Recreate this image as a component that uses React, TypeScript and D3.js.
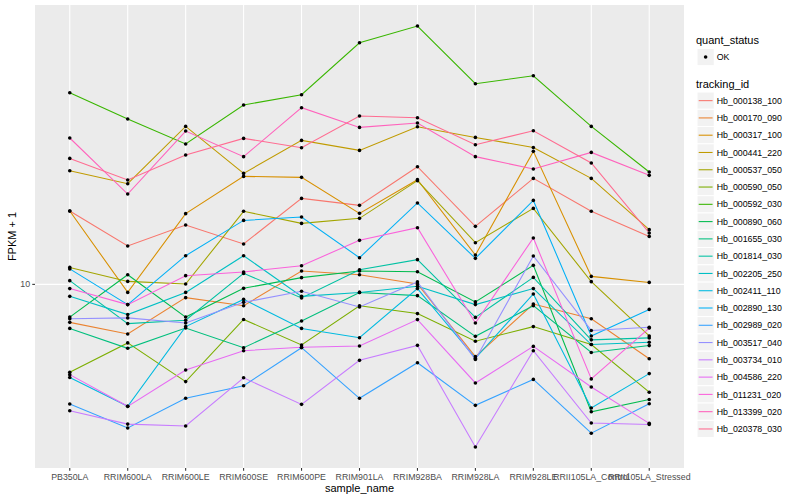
import React from "react";
import * as d3 from "d3";

const categories = [
  "PB350LA", "RRIM600LA", "RRIM600LE", "RRIM600SE", "RRIM600PE", "RRIM901LA",
  "RRIM928BA", "RRIM928LA", "RRIM928LE", "RRII105LA_Control", "RRII105LA_Stressed",
];

const trackingIds = [
  "Hb_000138_100", "Hb_000170_090", "Hb_000317_100", "Hb_000441_220", "Hb_000537_050",
  "Hb_000590_050", "Hb_000592_030", "Hb_000890_060", "Hb_001655_030", "Hb_001814_030",
  "Hb_002205_250", "Hb_002411_110", "Hb_002890_130", "Hb_002989_020", "Hb_003517_040",
  "Hb_003734_010", "Hb_004586_220", "Hb_011231_020", "Hb_013399_020", "Hb_020378_030",
];

const hb000138 = [17.57, 13.43, 15.78, 13.64, 19.35, 18.34, 24.68, 15.61, 22.56, 17.52, 14.45];
const hb000170 = [7.47, 6.83, 9.03, 8.49, 11.08, 10.77, 10.03, 5.74, 8.6, 7.68, 5.65];
const hb000317 = [17.57, 9.4, 17.21, 22.91, 22.74, 17.25, 22.34, 12.53, 27.76, 10.63, 10.15];
const hb000441 = [23.93, 21.66, 33.63, 23.44, 30.2, 27.97, 33.55, 30.9, 28.61, 22.56, 15.22];
const hb000537 = [11.39, 10.23, 10.03, 17.52, 15.97, 16.6, 22.17, 13.77, 17.92, 10.21, 6.73];
const hb000590 = [5.09, 6.38, 4.74, 7.64, 6.28, 8.49, 7.99, 6.46, 7.23, 6.3, 4.37];
const hb000592 = [43.55, 35.58, 29.38, 39.63, 42.89, 63.92, 72.66, 46.67, 49.62, 33.63, 23.7];
const hb000890 = [7.78, 10.77, 7.78, 9.7, 10.53, 11.08, 11.02, 8.74, 11.57, 3.76, 4.13];
const hb001655 = [7.13, 6.12, 7.15, 6.15, 7.55, 9.4, 9.17, 6.71, 8.49, 5.93, 6.25];
const hb001814 = [10.29, 7.4, 7.59, 10.88, 9.01, 11.19, 12.09, 7.76, 10.55, 6.53, 6.63];
const hb002205 = [9.12, 7.93, 9.4, 12.46, 9.12, 9.4, 9.85, 8.56, 9.68, 6.3, 6.41];
const hb002411 = [4.89, 3.92, 7.23, 8.91, 7.13, 6.64, 9.68, 5.67, 9.29, 3.87, 5.04];
const hb002890 = [11.26, 8.56, 12.46, 16.34, 16.78, 12.27, 18.68, 12.21, 19.05, 6.73, 8.25];
const hb002989 = [3.99, 3.32, 4.17, 4.59, 6.15, 4.17, 5.48, 3.95, 4.82, 3.19, 4.0];
const hb003517 = [7.68, 7.73, 7.43, 8.71, 9.48, 8.41, 10.19, 5.62, 12.44, 7.02, 7.19];
const hb003734 = [3.79, 3.42, 3.37, 4.88, 3.98, 5.58, 6.26, 2.87, 6.01, 3.45, 3.41];
const hb004586 = [5.0, 3.92, 5.18, 6.01, 6.17, 6.23, 7.63, 4.69, 6.21, 4.55, 3.44];
const hb011231 = [9.68, 8.56, 10.69, 11.0, 11.54, 14.02, 15.45, 7.43, 14.28, 4.84, 7.15];
const hb013399 = [30.76, 20.01, 32.45, 26.66, 38.82, 33.37, 34.51, 26.66, 24.25, 27.54, 23.09];
const hb020378 = [26.3, 22.28, 27.0, 30.67, 28.55, 36.41, 35.94, 29.22, 32.53, 25.39, 14.84];

const seriesValues = [
  hb000138, hb000170, hb000317, hb000441, hb000537, hb000590, hb000592, hb000890,
  hb001655, hb001814, hb002205, hb002411, hb002890, hb002989, hb003517, hb003734,
  hb004586, hb011231, hb013399, hb020378,
];

const seriesColors = [
  "#F8766D", "#EA8331", "#D89000", "#C09B00", "#A3A500", "#7CAE00", "#39B600", "#00BB4E",
  "#00BF7D", "#00C1A3", "#00BFC4", "#00BAE0", "#00B0F6", "#35A2FF", "#9590FF", "#C77CFF",
  "#E76BF3", "#FA62DB", "#FF62BC", "#FF6C91",
];

const yTicks = [10];
const quantStatus = ["OK"];

const FONT = "'Liberation Sans', Arial, Helvetica, sans-serif";

export default function App() {
  const W = 800;
  const H = 500;
  const pL = 35, pR = 684, pT = 5, pB = 468;

  const x = d3.scalePoint<string>().domain(categories).range([pL, pR]).padding(0.6);
  const all = seriesValues.flat();
  const lmin = Math.log10(d3.min(all) as number);
  const lmax = Math.log10(d3.max(all) as number);
  const pad = (lmax - lmin) * 0.05;
  const y = d3.scaleLog().domain([10 ** (lmin - pad), 10 ** (lmax + pad)]).range([pB, pT]);

  const line = d3
    .line<number>()
    .x((_, i) => x(categories[i]) as number)
    .y((d) => y(d));

  const keyX = 697;
  const keySize = 17.28;
  const trackTop = 92;

  return (
    <svg
      width={W}
      height={H}
      style={{ position: "absolute", left: 0, top: 0, background: "#fff" }}
      fontFamily={FONT}
    >
      <rect x={0} y={0} width={W} height={H} fill="#fff" />
      <rect x={pL} y={pT} width={pR - pL} height={pB - pT} fill="#EBEBEB" />
      {yTicks.map((t) => (
        <line key={"gy" + t} x1={pL} x2={pR} y1={y(t)} y2={y(t)} stroke="#fff" strokeWidth={1.07} />
      ))}
      {categories.map((c) => (
        <line key={"gx" + c} x1={x(c)} x2={x(c)} y1={pT} y2={pB} stroke="#fff" strokeWidth={1.07} />
      ))}

      {seriesValues.map((vals, i) => (
        <path key={"l" + i} d={line(vals) || ""} fill="none" stroke={seriesColors[i]} strokeWidth={1.07} />
      ))}
      {seriesValues.map((vals, i) =>
        vals.map((v, j) => (
          <circle key={"p" + i + "-" + j} cx={x(categories[j])} cy={y(v)} r={1.8} fill="#000" />
        ))
      )}

      {yTicks.map((t) => (
        <g key={"ty" + t}>
          <line x1={pL - 2.75} x2={pL} y1={y(t)} y2={y(t)} stroke="#333" strokeWidth={1.07} />
          <text x={pL - 4.9} y={y(t) + 3.1} textAnchor="end" fontSize={8.8} fill="#4D4D4D">
            {t}
          </text>
        </g>
      ))}
      {categories.map((c) => (
        <g key={"tx" + c}>
          <line x1={x(c)} x2={x(c)} y1={pB} y2={pB + 2.75} stroke="#333" strokeWidth={1.07} />
          <text x={x(c)} y={pB + 12.3} textAnchor="middle" fontSize={8.8} fill="#4D4D4D">
            {c}
          </text>
        </g>
      ))}

      <text x={(pL + pR) / 2} y={492.3} textAnchor="middle" fontSize={11} fill="#000">
        sample_name
      </text>
      <text
        transform={`translate(16.3, ${(pT + pB) / 2}) rotate(-90)`}
        textAnchor="middle"
        fontSize={11}
        fill="#000"
      >
        FPKM + 1
      </text>

      <text x={696} y={44} fontSize={11} fill="#000">quant_status</text>
      {quantStatus.map((q, i) => (
        <g key={"q" + q}>
          <rect x={keyX} y={48.4 + i * keySize} width={keySize} height={keySize} fill="#F2F2F2" stroke="#fff" strokeWidth={1} />
          <circle cx={keyX + keySize / 2} cy={48.4 + keySize / 2 + i * keySize} r={1.8} fill="#000" />
          <text x={keyX + keySize + 2.5} y={48.4 + keySize / 2 + 3.1 + i * keySize} fontSize={8.8} fill="#000">
            {q}
          </text>
        </g>
      ))}

      <text x={696} y={87.5} fontSize={11} fill="#000">tracking_id</text>
      {trackingIds.map((id, i) => {
        const ky = trackTop + i * keySize;
        return (
          <g key={"k" + id}>
            <rect x={keyX} y={ky} width={keySize} height={keySize} fill="#F2F2F2" stroke="#fff" strokeWidth={1} />
            <line x1={keyX + 1.7} x2={keyX + keySize - 1.7} y1={ky + keySize / 2} y2={ky + keySize / 2} stroke={seriesColors[i]} strokeWidth={1.07} />
            <text x={keyX + keySize + 2.5} y={ky + keySize / 2 + 3.1} fontSize={8.8} fill="#000">
              {id}
            </text>
          </g>
        );
      })}
    </svg>
  );
}
